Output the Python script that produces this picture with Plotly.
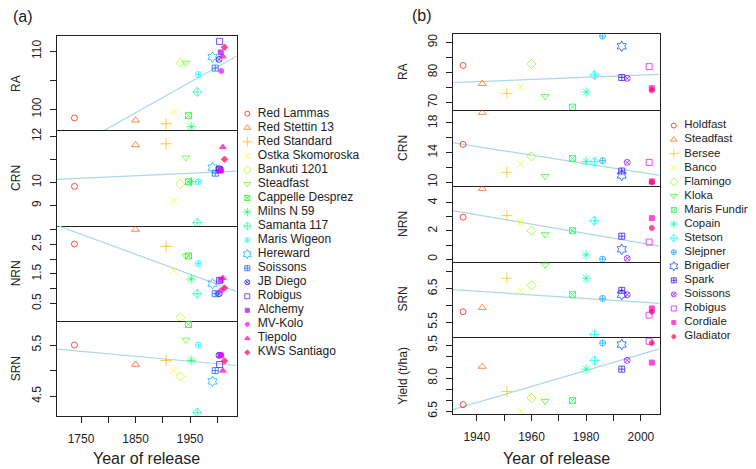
import colorsys

import plotly.graph_objects as go

# the page body keeps its default 8px margin, so the figure is drawn 8px smaller
# and every reference pixel position is shifted by that offset
W, H = 756, 469
OFF = 8
FIG_W, FIG_H = W - OFF, H - OFF

# ---- panel (a): historic varieties ----
A_VARIETIES = [
    "Red Lammas", "Red Stettin 13", "Red Standard", "Ostka Skomoroska", "Bankuti 1201",
    "Steadfast", "Cappelle Desprez", "Milns N 59", "Samanta 117", "Maris Wigeon",
    "Hereward", "Soissons", "JB Diego", "Robigus", "Alchemy", "MV-Kolo", "Tiepolo",
    "KWS Santiago",
]
A_YEAR = [1738, 1850, 1906, 1920, 1932, 1942, 1947, 1952, 1963, 1965,
          1991, 1996, 2003, 2004, 2006, 2007, 2010, 2013]
A_RA = [98.5, 98.1, 97.5, 99.5, 108.0, 108.0, 98.9, 97.0, 103.0, 106.0,
        109.0, 107.1, 108.6, 111.7, 109.8, 106.6, 109.1, 110.7]
A_CRN = [9.83, 11.62, 11.67, 9.21, 9.93, 11.07, 10.03, 10.03, 8.26, 10.03,
         10.64, 10.4, 10.6, 10.55, 10.53, 10.5, 11.53, 11.0]
A_NRN = [2.51, 3.0, 2.43, 1.61, 0.03, 2.11, 2.11, 1.33, 0.83, 1.85,
         1.17, 0.83, 0.83, 1.28, 1.3, 0.94, 1.36, 1.02]
A_SRN = [5.5, 5.12, 5.2, 5.0, 4.89, 5.6, 5.9, 5.2, 4.18, 5.5,
         4.79, 5.0, 5.3, 5.12, 5.3, 5.3, 5.0, 5.19]
A_TRAITS = ["RA", "CRN", "NRN", "SRN"]
# fitted line value at the left / right end of the x range
A_TREND = [[91.8, 109.15], [10.13, 10.49], [3.14, 0.91], [5.42, 5.1]]
A_XRANGE = [1706, 2035]
A_YRANGES = [[96.4, 112.7], [8.13, 12.26], [-0.09, 3.13], [4.12, 5.97]]
A_YTICKS = [[100, 105, 110], [9, 10, 11, 12], [0.5, 1.0, 1.5, 2.0, 2.5, 3.0], [4.5, 5.0, 5.5]]
A_YTEXT = [["100", "", "110"], ["9", "10", "", "12"], ["0.5", "", "1.5", "", "2.5", ""],
           ["4.5", "", "5.5"]]
A_XTICKS = [1750, 1800, 1850, 1900, 1950, 2000]
A_XTEXT = ["1750", "", "1850", "", "1950", ""]

# ---- panel (b): modern varieties ----
B_VARIETIES = [
    "Holdfast", "Steadfast", "Bersee", "Banco", "Flamingo", "Kloka", "Maris Fundin",
    "Copain", "Stetson", "Slejpner", "Brigadier", "Spark", "Soissons", "Robigus",
    "Cordiale", "Gladiator",
]
B_YEAR = [1935, 1942, 1951, 1956, 1960, 1965, 1975, 1980, 1983, 1986,
          1993, 1993, 1995, 2003, 2004, 2004]
B_RA = [82.3, 76.2, 73.0, 75.3, 82.8, 72.0, 68.4, 73.4, 79.1, 92.1,
        88.7, 78.3, 78.0, 81.9, 74.7, 74.0]
B_CRN = [15.1, 19.4, 11.33, 12.45, 13.47, 10.8, 13.2, 12.8, 12.76, 12.9,
         10.9, 11.5, 12.67, 12.67, 10.1, 9.95]
B_NRN = [2.98, 5.0, 3.09, 2.6, 2.02, 1.75, 2.02, 0.3, 2.72, 0.0,
         0.7, 1.63, 0.05, 1.21, 2.91, 2.21]
B_SRN = [5.81, 5.93, 6.81, 6.43, 6.6, 7.21, 6.32, 6.81, 5.13, 6.21,
         6.32, 6.45, 6.32, 5.71, 5.91, 5.81]
B_YIELD = [6.8, 8.53, 7.4, 6.51, 7.1, 6.96, 6.99, 8.41, 8.81, 9.6,
           9.53, 8.41, 8.81, 9.68, 8.71, 9.6]
B_TRAITS = ["RA", "CRN", "NRN", "SRN", "Yield (t/ha)"]
B_TREND = [[76.6, 79.3], [15.33, 10.9], [3.44, 0.93], [6.47, 6.06], [6.57, 9.33]]
B_XRANGE = [1931.2, 2006.8]
B_YRANGES = [[67.5, 92.7], [9.47, 19.79], [-0.19, 5.19], [5.05, 7.3], [6.37, 9.86]]
B_YTICKS = [[70, 75, 80, 85, 90], [10, 12, 14, 16, 18], [0, 1, 2, 3, 4],
            [5.5, 6.0, 6.5, 7.0], [6.5, 7.0, 7.5, 8.0, 8.5, 9.0, 9.5]]
B_YTEXT = [["70", "", "80", "", "90"], ["10", "", "14", "", "18"], ["0", "", "2", "", "4"],
           ["5.5", "", "6.5", ""], ["6.5", "", "", "8.0", "", "", "9.5"]]
B_XTICKS = [1940, 1950, 1960, 1970, 1980, 1990, 2000]
B_XTEXT = ["1940", "", "1960", "", "1980", "", "2000"]

# R pch 1..18 look-alikes
PCH = ["circle-open", "triangle-up-open", "cross-thin-open", "x-thin-open", "diamond-open",
       "triangle-down-open", "square-x-open", "asterisk-open", "diamond-cross-open",
       "circle-cross-open", "hexagram-open", "square-cross-open", "circle-x-open",
       "square-open", "square", "circle", "triangle-up", "diamond"]
PCH_SIZE = [6, 7, 8, 7, 7, 7, 6, 8, 7, 6, 8, 6, 6, 6, 5, 5, 6, 5]

FONT = "Arial, Liberation Sans, sans-serif"
TREND_COLOR = "#ADD8E6"
INK = "#222"


def rainbow(n):
    out = []
    for i in range(n):
        r, g, b = colorsys.hsv_to_rgb(i / n, 1, 1)
        out.append(f"rgb({round(r * 255)},{round(g * 255)},{round(b * 255)})")
    return out


def px(x):
    return (x - OFF) / FIG_W


def py(y):
    return 1 - (y - OFF) / FIG_H


def label(fig, x, y, text, size=12, angle=0):
    fig.add_annotation(
        x=px(x), y=py(y), xref="paper", yref="paper", text=text, textangle=angle,
        xanchor="center", yanchor="middle", showarrow=False,
        font=dict(size=size, color=INK),
    )


def add_column(fig, first, x_px, y_edges, xrange, years, series, trends, yranges,
               yticks, ytext, xticks, xtext, traits, title_x):
    n = len(years)
    colors = rainbow(n)
    symbols = PCH[:n]
    sizes = PCH_SIZE[:n]
    last = len(series) - 1
    for k, vals in enumerate(series):
        idx = first + k
        xa, ya = f"x{idx}", f"y{idx}"
        fig.add_trace(go.Scatter(
            x=xrange, y=trends[k], mode="lines", xaxis=xa, yaxis=ya,
            line=dict(color=TREND_COLOR, width=1.2), hoverinfo="skip", showlegend=False,
        ))
        fig.add_trace(go.Scatter(
            x=years, y=vals, mode="markers", xaxis=xa, yaxis=ya, showlegend=False,
            marker=dict(symbol=symbols, color=colors, size=sizes,
                        line=dict(color=colors, width=1)),
        ))
        bottom = k == last
        fig.layout[f"xaxis{idx}"] = dict(
            domain=[px(x_px[0]), px(x_px[1])], anchor=ya, range=xrange,
            showline=True, mirror=(k == 0), linecolor=INK, linewidth=1,
            showgrid=False, zeroline=False,
            ticks="outside" if bottom else "", ticklen=6, tickcolor=INK,
            tickvals=xticks, ticktext=xtext, showticklabels=bottom,
            ticklabelstandoff=6, tickfont=dict(size=12, color=INK),
        )
        fig.layout[f"yaxis{idx}"] = dict(
            domain=[py(y_edges[k + 1]), py(y_edges[k])], anchor=xa, range=yranges[k],
            showline=True, mirror=True, linecolor=INK, linewidth=1,
            showgrid=False, zeroline=False, ticks="outside", ticklen=6, tickcolor=INK,
            tickvals=yticks[k], ticktext=ytext[k], tickangle=-90,
            ticklabelstandoff=4, tickfont=dict(size=12, color=INK),
        )
        label(fig, title_x, (y_edges[k] + y_edges[k + 1]) / 2, traits[k], angle=-90)
    label(fig, (x_px[0] + x_px[1]) / 2, 462, "Year of release", size=16)


def add_key(fig, idx, names, x_px, y_first, step, size=12):
    n = len(names)
    colors = rainbow(n)
    top = y_first - step / 2
    bottom = y_first + step * (n - 0.5)
    xa, ya = f"x{idx}", f"y{idx}"
    rows = list(range(n))
    fig.add_trace(go.Scatter(
        x=[x_px[0] + 3] * n, y=rows, mode="markers", xaxis=xa, yaxis=ya, showlegend=False,
        cliponaxis=False, hoverinfo="skip",
        marker=dict(symbol=PCH[:n], color=colors, size=[s - 1 for s in PCH_SIZE[:n]],
                    line=dict(color=colors, width=1)),
    ))
    fig.add_trace(go.Scatter(
        x=[x_px[0] + 13.5] * n, y=rows, mode="text", text=names, textposition="middle right",
        xaxis=xa, yaxis=ya, showlegend=False, cliponaxis=False, hoverinfo="skip",
        textfont=dict(size=size, color=INK),
    ))
    fig.layout[f"xaxis{idx}"] = dict(domain=[px(x_px[0]), px(x_px[1])], range=x_px,
                                     anchor=ya, visible=False)
    fig.layout[f"yaxis{idx}"] = dict(domain=[py(bottom), py(top)], range=[n - 0.5, -0.5],
                                     anchor=xa, visible=False)


def build() -> go.Figure:
    fig = go.Figure()
    add_column(fig, 1, [57, 236.5], [33, 129, 226, 322.7, 419], A_XRANGE,
               A_YEAR, [A_RA, A_CRN, A_NRN, A_SRN], A_TREND, A_YRANGES,
               A_YTICKS, A_YTEXT, A_XTICKS, A_XTEXT, A_TRAITS, 16)
    add_column(fig, 5, [452.7, 659.5], [31.7, 108.3, 185.7, 262.7, 339.3, 417.3], B_XRANGE,
               B_YEAR, [B_RA, B_CRN, B_NRN, B_SRN, B_YIELD], B_TREND, B_YRANGES,
               B_YTICKS, B_YTEXT, B_XTICKS, B_XTEXT, B_TRAITS, 403)
    add_key(fig, 10, A_VARIETIES, [244.3, 372], 112.3, 14.26)
    add_key(fig, 11, B_VARIETIES, [670.8, 756], 124.3, 14.29, size=11.4)

    label(fig, 23, 14, "(a)", size=16)
    label(fig, 422, 13, "(b)", size=16)

    fig.update_layout(
        width=FIG_W, height=FIG_H,
        margin=dict(l=0, r=0, t=0, b=0),
        plot_bgcolor="white", paper_bgcolor="white",
        font=dict(family=FONT, color=INK),
        showlegend=False,
    )
    return fig


if __name__ == "__main__":
    build().write_html("out.html")
